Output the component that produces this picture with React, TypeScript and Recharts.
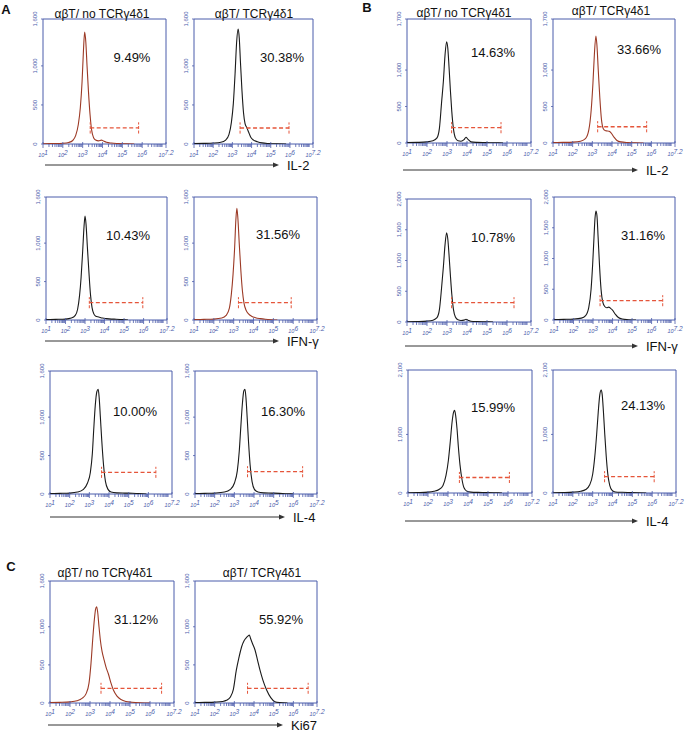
import React from 'react';
import { LineChart, Line, XAxis, YAxis, ReferenceArea, ReferenceLine } from 'recharts';

type Pt = [number, number];

// ---- histogram curves (x = log10 fluorescence, y = count) ----
const aIl2No: Pt[] = [[1.0,4],[1.5,6],[2.0,10],[2.3,20],[2.5,45],[2.65,110],[2.78,250],[2.88,460],[2.97,800],[3.04,1200],[3.1,1432],[3.16,1300],[3.22,1000],[3.29,680],[3.37,380],[3.45,180],[3.55,80],[3.65,50],[3.8,40],[3.95,50],[4.05,38],[4.2,22],[4.45,12],[4.8,6],[5.2,2],[5.6,0]];
const aIl2Yes: Pt[] = [[1.0,6],[1.5,8],[2.0,12],[2.4,22],[2.65,50],[2.82,120],[2.95,280],[3.05,520],[3.14,900],[3.22,1300],[3.3,1470],[3.36,1350],[3.42,1050],[3.5,680],[3.58,400],[3.66,260],[3.75,210],[3.85,150],[3.95,90],[4.1,50],[4.3,30],[4.55,14],[4.9,6],[5.3,2],[5.8,0]];
const bIl2No: Pt[] = [[1.0,5],[1.5,8],[2.0,15],[2.3,30],[2.5,70],[2.62,200],[2.73,560],[2.82,850],[2.9,1200],[2.98,1389],[3.04,1300],[3.1,1050],[3.17,720],[3.24,430],[3.32,200],[3.42,70],[3.55,30],[3.7,25],[3.85,45],[3.95,78],[4.05,50],[4.2,15],[4.5,8],[4.9,5],[5.3,3],[5.8,0]];
const bIl2Yes: Pt[] = [[1.0,5],[1.5,8],[2.0,12],[2.4,25],[2.65,60],[2.82,180],[2.94,450],[3.03,820],[3.1,1200],[3.18,1467],[3.23,1350],[3.3,1000],[3.38,620],[3.46,330],[3.55,200],[3.65,170],[3.75,165],[3.85,160],[3.95,140],[4.1,80],[4.25,35],[4.45,15],[4.8,6],[5.2,2],[5.6,0]];
const aIfnNo: Pt[] = [[1.0,5],[1.5,8],[2.0,12],[2.3,25],[2.5,60],[2.62,140],[2.72,320],[2.8,560],[2.88,900],[2.95,1220],[3.0,1353],[3.05,1250],[3.12,950],[3.2,620],[3.28,330],[3.36,160],[3.45,80],[3.55,50],[3.7,40],[3.9,25],[4.1,18],[4.35,12],[4.6,10],[4.9,5],[5.2,0]];
const aIfnYes: Pt[] = [[1.0,5],[1.5,8],[2.0,12],[2.4,25],[2.62,60],[2.78,150],[2.88,330],[2.97,600],[3.05,950],[3.11,1300],[3.16,1453],[3.21,1330],[3.28,1000],[3.36,650],[3.44,380],[3.52,220],[3.62,130],[3.75,80],[3.9,50],[4.1,30],[4.35,18],[4.6,10],[4.9,4],[5.2,0]];
const bIfnNo: Pt[] = [[1.0,5],[1.5,8],[2.0,15],[2.3,30],[2.5,70],[2.62,200],[2.73,560],[2.82,900],[2.9,1250],[2.98,1452],[3.04,1350],[3.1,1100],[3.17,760],[3.24,450],[3.32,210],[3.42,80],[3.55,35],[3.7,25],[3.85,30],[3.95,44],[4.05,30],[4.2,12],[4.5,6],[4.9,3],[5.3,0]];
const bIfnYes: Pt[] = [[1.0,6],[1.5,10],[2.0,15],[2.4,30],[2.62,70],[2.78,200],[2.9,500],[2.98,900],[3.05,1350],[3.1,1650],[3.15,1772],[3.2,1700],[3.26,1350],[3.33,900],[3.41,500],[3.5,290],[3.6,220],[3.7,200],[3.8,210],[3.9,190],[4.0,160],[4.15,90],[4.3,40],[4.5,15],[4.8,5],[5.2,0]];
const aIl4No: Pt[] = [[1.0,5],[1.5,8],[2.0,12],[2.4,25],[2.7,60],[2.9,140],[3.05,280],[3.15,520],[3.22,830],[3.3,1150],[3.38,1330],[3.45,1362],[3.5,1250],[3.56,1000],[3.63,700],[3.72,380],[3.82,160],[3.95,60],[4.1,25],[4.4,15],[4.8,12],[5.2,10],[5.5,5],[5.9,0]];
const aIl4Yes: Pt[] = [[1.0,5],[1.5,8],[2.0,12],[2.5,25],[2.8,60],[3.0,140],[3.15,300],[3.25,560],[3.33,880],[3.41,1180],[3.48,1340],[3.54,1362],[3.59,1250],[3.65,1000],[3.72,680],[3.8,380],[3.9,160],[4.02,60],[4.2,25],[4.5,15],[4.9,12],[5.3,8],[5.6,4],[6.0,0]];
const bIl4No: Pt[] = [[1.0,5],[1.5,8],[2.0,15],[2.3,30],[2.55,60],[2.75,130],[2.9,300],[3.02,560],[3.12,900],[3.2,1200],[3.28,1380],[3.33,1411],[3.38,1330],[3.45,1100],[3.52,780],[3.6,480],[3.7,230],[3.8,90],[3.95,30],[4.15,15],[4.5,10],[4.9,8],[5.3,4],[5.7,0]];
const bIl4Yes: Pt[] = [[1.0,5],[1.5,8],[2.0,15],[2.4,30],[2.65,60],[2.85,140],[3.0,320],[3.1,600],[3.2,1000],[3.28,1380],[3.36,1680],[3.43,1758],[3.48,1680],[3.54,1400],[3.61,1000],[3.68,640],[3.76,330],[3.86,130],[3.98,45],[4.15,18],[4.5,12],[4.9,8],[5.3,4],[5.7,0]];
const cKi67No: Pt[] = [[1.0,5],[1.5,8],[2.0,15],[2.35,30],[2.6,60],[2.8,120],[2.95,260],[3.05,520],[3.14,850],[3.22,1100],[3.28,1230],[3.33,1263],[3.38,1200],[3.45,1000],[3.52,820],[3.6,680],[3.7,570],[3.8,470],[3.92,380],[4.05,260],[4.17,170],[4.35,90],[4.55,45],[4.8,20],[5.1,10],[5.5,3],[6.0,0]];
const cKi67Yes: Pt[] = [[1.0,5],[1.5,8],[2.0,12],[2.4,20],[2.6,35],[2.8,80],[2.95,180],[3.1,430],[3.22,580],[3.37,738],[3.5,820],[3.62,860],[3.7,880],[3.76,892],[3.82,850],[3.92,780],[4.05,695],[4.18,560],[4.3,433],[4.45,300],[4.64,170],[4.85,70],[5.06,17],[5.3,5],[5.7,0]];

const curves: Pt[][] = [aIl2No, aIl2Yes, bIl2No, bIl2Yes, aIfnNo, aIfnYes, bIfnNo, bIfnYes, aIl4No, aIl4Yes, bIl4No, bIl4Yes, cKi67No, cKi67Yes];
const percentLabels = ['9.49%', '30.38%', '14.63%', '33.66%', '10.43%', '31.56%', '10.78%', '31.16%', '10.00%', '16.30%', '15.99%', '24.13%', '31.12%', '55.92%'];
// gate: [start, end, level]
const gates: [number, number, number][] = [
  [3.38, 5.82, 206], [3.4, 5.95, 205], [3.23, 5.7, 210], [3.27, 5.76, 223],
  [3.22, 5.96, 225], [3.24, 5.9, 225], [3.23, 6.35, 314], [3.36, 6.57, 314],
  [3.62, 6.38, 282], [3.67, 6.47, 290], [3.57, 6.07, 265], [3.6, 6.1, 278],
  [3.55, 6.58, 193], [3.67, 6.75, 193],
];
const yMaxes = [1600, 1600, 1700, 1700, 1600, 1600, 2000, 2000, 1600, 1600, 2100, 2100, 1600, 1600];
const yTicks16 = [0, 500, 1000, 1600];
const yTicks17 = [0, 500, 1000, 1700];
const yTicks20 = [0, 500, 1000, 1500, 2000];
const yTicks21 = [0, 1000, 2100];
const yTickSets = [yTicks16, yTicks16, yTicks17, yTicks17, yTicks16, yTicks16, yTicks20, yTicks20, yTicks16, yTicks16, yTicks21, yTicks21, yTicks16, yTicks16];
const isRed = [true, false, false, true, false, true, false, false, false, false, false, false, true, false];
const decadeTicks = [1, 2, 3, 4, 5, 6, 7.2];
const decadeLabels = ['1', '2', '3', '4', '5', '6', '7.2'];
const titleNo = 'αβT/ no TCRγ4δ1';
const titleYes = 'αβT/ TCRγ4δ1';
const markers = ['IL-2', 'IFN-γ', 'IL-4', 'Ki67'];

// ---- layout (pixel frames of each plot) ----
const frames: [number, number, number, number][] = [
  [43, 19, 166, 144], [194, 19, 313, 144], [407, 19, 531, 143], [553, 19, 675, 143],
  [46, 197, 167, 320], [194, 197, 317, 320], [407, 199, 531, 322], [554, 197, 675, 320],
  [50, 371, 172, 494], [195, 371, 317, 494], [408, 370, 532, 493], [553, 370, 676, 493],
  [50, 581, 174, 703], [195, 581, 317, 703],
];
const pctPos: [number, number][] = [
  [132, 57], [282, 57], [493, 52], [639, 49],
  [128, 235], [278, 234], [493, 237], [643, 235],
  [135, 411], [283, 411], [493, 407], [643, 405],
  [136, 619], [281, 619],
];
const titlePos: [string, number, number][] = [
  [titleNo, 102, 14], [titleYes, 254, 14], [titleNo, 464, 13], [titleYes, 611, 11],
  [titleNo, 105, 573], [titleYes, 262, 573],
];
const arrows: [number, number, number, string][] = [
  [45, 279, 165, markers[0]], [45, 279, 341, markers[1]], [50, 285, 517, markers[2]],
  [403, 638, 170, markers[0]], [405, 638, 346, markers[1]], [405, 638, 521, markers[2]],
  [48, 283, 725, markers[3]],
];

const BLUE = '#4b5cab';
const RED_LINE = '#9c3a26';
const GATE = '#e5553a';
const FONT = '"Liberation Sans", Arial, sans-serif';

const minorTicks: number[] = (() => {
  const out: number[] = [];
  for (let d = 1; d <= 7; d++) {
    for (let m = 1; m <= 9; m++) {
      const v = d + Math.log10(m);
      if (v <= 7.2 + 1e-9) out.push(+v.toFixed(4));
    }
  }
  if (!out.includes(7.2)) out.push(7.2);
  return out;
})();

const XTick = (props: any) => {
  const { x, y, payload } = props;
  const v = payload.value;
  const idx = decadeTicks.findIndex((d) => Math.abs(d - v) < 1e-6);
  const major = idx >= 0;
  return (
    <g>
      <line x1={x} x2={x} y1={y - (major ? 2 : 0)} y2={y + (major ? 4 : 3)} stroke={BLUE} strokeWidth={0.8} />
      {major && (
        <text x={x} y={y + 13} textAnchor="middle" fontSize={5.5} fill={BLUE} fontFamily={FONT} fontStyle="italic">
          10<tspan dy={-2.5} fontSize={6.5}>{decadeLabels[idx]}</tspan>
        </text>
      )}
    </g>
  );
};

const YTick = (props: any) => {
  const { x, y, payload } = props;
  const label = Number(payload.value).toLocaleString('en-US');
  return (
    <g>
      <line x1={x} x2={x - 2} y1={y} y2={y} stroke={BLUE} strokeWidth={0.8} />
      <text x={x - 6} y={y} textAnchor="middle" fontSize={6} fill={BLUE} fontFamily={FONT} transform={`rotate(-90, ${x - 6}, ${y})`}>
        {label}
      </text>
    </g>
  );
};

const YW = 16, MT = 12, MR = 10, XH = 18;

const Histo = ({ i }: { i: number }) => {
  const [x0, y0, x1, y1] = frames[i];
  const w = x1 - x0 + YW + MR;
  const h = y1 - y0 + MT + XH;
  const data = curves[i].map(([x, y]) => ({ x, y }));
  const ymax = yMaxes[i];
  const [gs, ge, gy] = gates[i];
  const cap = ymax * 0.045;
  return (
    <div style={{ position: 'absolute', left: x0 - YW, top: y0 - MT, width: w, height: h }}>
      <LineChart width={w} height={h} data={data} margin={{ top: MT, right: MR, left: 0, bottom: 0 }}>
        <XAxis dataKey="x" type="number" domain={[1, 7.2]} ticks={minorTicks} interval={0} tickSize={0} tickMargin={0}
          axisLine={false} tickLine={false} tick={<XTick />} height={XH} allowDataOverflow />
        <YAxis type="number" domain={[0, ymax]} ticks={yTickSets[i]} interval={0} tickSize={0} tickMargin={0}
          axisLine={false} tickLine={false} tick={<YTick />} width={YW} allowDataOverflow />
        <ReferenceArea x1={1} x2={7.2} y1={0} y2={ymax} fill="none" fillOpacity={0} stroke={BLUE} strokeWidth={1} />
        <Line dataKey="y" type="monotone" stroke={isRed[i] ? RED_LINE : '#1a1a1a'} strokeWidth={1.1} dot={false} isAnimationActive={false} />
        <ReferenceLine segment={[{ x: gs, y: gy }, { x: ge, y: gy }]} stroke={GATE} strokeOpacity={1} strokeWidth={1.3} strokeDasharray="4 2.5" />
        <ReferenceLine segment={[{ x: gs, y: gy - cap }, { x: gs, y: gy + cap }]} stroke={GATE} strokeWidth={1} strokeDasharray="3 1.5" />
        <ReferenceLine segment={[{ x: ge, y: gy - cap }, { x: ge, y: gy + cap }]} stroke={GATE} strokeWidth={1} strokeDasharray="3 1.5" />
      </LineChart>
    </div>
  );
};

const Arrow = ({ a }: { a: [number, number, number, string] }) => {
  const [xa, xb, y, label] = a;
  return (
    <>
      <svg style={{ position: 'absolute', left: xa, top: y - 4, overflow: 'visible' }} width={xb - xa} height={8}>
        <line x1={0} x2={xb - xa - 5} y1={4} y2={4} stroke="#333" strokeWidth={1} />
        <polygon points={`${xb - xa},4 ${xb - xa - 6},1.5 ${xb - xa - 6},6.5`} fill="#333" />
      </svg>
      <div style={{ position: 'absolute', left: xb + 8, top: y, transform: 'translateY(-50%)', fontSize: 13, fontFamily: FONT, color: '#111', whiteSpace: 'nowrap', lineHeight: 1 }}>
        {label}
      </div>
    </>
  );
};

const textStyle = (cx: number, cy: number, size: number, bold = false): React.CSSProperties => ({
  position: 'absolute', left: cx, top: cy, transform: 'translate(-50%, -50%)', fontSize: size,
  fontFamily: FONT, color: '#111', whiteSpace: 'nowrap', fontWeight: bold ? 'bold' : 'normal', lineHeight: 1,
});

export default function App() {
  return (
    <div style={{ position: 'absolute', left: 0, top: 0, width: 685, height: 734, background: '#fff', overflow: 'hidden' }}>
      {frames.map((_, i) => <Histo key={i} i={i} />)}
      {percentLabels.map((p, i) => (
        <div key={'p' + i} style={textStyle(pctPos[i][0], pctPos[i][1], 13)}>{p}</div>
      ))}
      {titlePos.map(([t, cx, cy], i) => (
        <div key={'t' + i} style={textStyle(cx, cy, 12)}>{t}</div>
      ))}
      {arrows.map((a, i) => <Arrow key={'a' + i} a={a} />)}
      <div style={textStyle(6, 9, 13, true)}>A</div>
      <div style={textStyle(367, 7, 13, true)}>B</div>
      <div style={textStyle(11, 566, 13, true)}>C</div>
    </div>
  );
}
